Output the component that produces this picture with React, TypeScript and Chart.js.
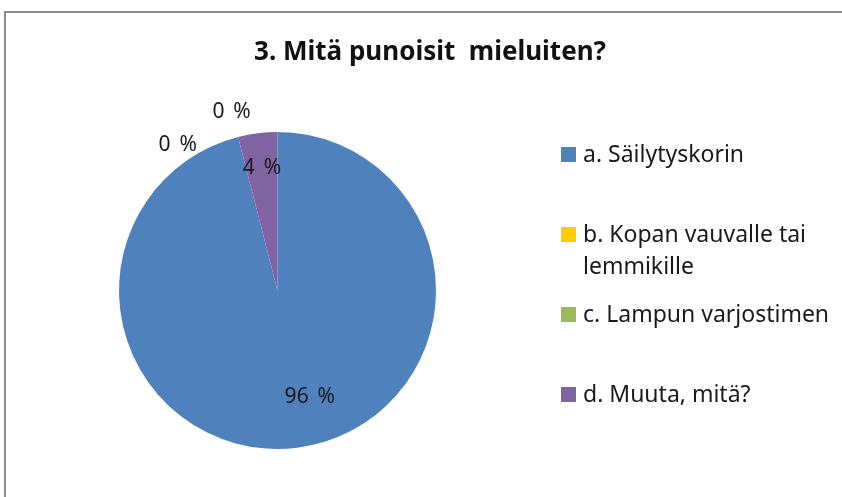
import React, { useEffect, useRef } from "react";
import { Chart, registerables } from "chart.js";
Chart.register(...registerables);

const categories = [
  "a. Säilytyskorin",
  "b. Kopan vauvalle tai lemmikille",
  "c. Lampun varjostimen",
  "d. Muuta, mitä?",
];
const values = [96, 0, 0, 4];
const valueLabels = ["96 %", "0 %", "0 %", "4 %"];
const colors = ["#4F81BD", "#FFCC00", "#9BBB59", "#8064A2"];
const title = "3. Mitä punoisit  mieluiten?";

const FONT = "'Noto Sans', 'Open Sans', sans-serif";

const decor = {
  id: "decor",
  beforeDraw(chart: any) {
    const ctx = chart.ctx;
    ctx.save();
    ctx.fillStyle = "#ffffff";
    ctx.fillRect(0, 0, chart.width, chart.height);
    ctx.strokeStyle = "#8c8c8c";
    ctx.lineWidth = 2;
    ctx.beginPath();
    ctx.moveTo(5, chart.height);
    ctx.lineTo(5, 12);
    ctx.lineTo(chart.width, 12);
    ctx.stroke();
    ctx.fillStyle = "#111";
    ctx.font = `bold 26px ${FONT}`;
    ctx.textAlign = "center";
    ctx.textBaseline = "middle";
    ctx.fillText(title, 430, 53);
    ctx.restore();
  },
  afterDatasetsDraw(chart: any) {
    const ctx = chart.ctx;
    const meta = chart.getDatasetMeta(0);
    ctx.save();
    ctx.font = `21px ${FONT}`;
    ctx.fillStyle = "#1a1a1a";
    ctx.textAlign = "center";
    ctx.textBaseline = "middle";
    let zeroK = 0;
    meta.data.forEach((arc: any, i: number) => {
      const p = arc.getProps(["x", "y", "startAngle", "endAngle", "outerRadius"], true);
      const mid = (p.startAngle + p.endAngle) / 2;
      let a = mid;
      let r: number;
      if (values[i] === 0) {
        a = mid - (zeroK * 20 * Math.PI) / 180;
        r = p.outerRadius + 26 - zeroK * 8;
        zeroK++;
      } else {
        a = mid - (values[i] > 50 ? 0.17 : 0);
        r = p.outerRadius * (values[i] > 50 ? 0.7 : 0.78);
      }
      ctx.fillText(valueLabels[i].replace(" ", "\u2009 "), p.x + Math.cos(a) * r, p.y + Math.sin(a) * r);
    });
    const lx = 561;
    const ly0 = 155;
    const step = 80;
    const lineH = 32;
    const maxW = 270;
    ctx.textAlign = "left";
    ctx.font = `23px ${FONT}`;
    categories.forEach((c, i) => {
      const y = ly0 + i * step;
      ctx.fillStyle = colors[i];
      ctx.fillRect(lx, y - 8, 15, 15);
      const words = c.split(" ");
      const lines: string[] = [];
      let cur = "";
      words.forEach((w) => {
        const t = cur ? cur + " " + w : w;
        if (ctx.measureText(t).width > maxW && cur) {
          lines.push(cur);
          cur = w;
        } else cur = t;
      });
      if (cur) lines.push(cur);
      ctx.fillStyle = "#1a1a1a";
      lines.forEach((ln, j) => ctx.fillText(ln, lx + 22, y + j * lineH));
    });
    ctx.restore();
  },
};

export default function App() {
  const ref = useRef<HTMLCanvasElement>(null);
  useEffect(() => {
    if (!ref.current) return;
    const chart = new Chart(ref.current, {
      type: "pie",
      data: {
        labels: categories,
        datasets: [
          {
            data: values,
            backgroundColor: colors,
            borderWidth: 0,
          },
        ],
      },
      options: {
        responsive: false,
        animation: false,
        layout: { padding: { left: 119, right: 406, top: 132, bottom: 48 } },
        plugins: { legend: { display: false }, tooltip: { enabled: false }, title: { display: false } },
      },
      plugins: [decor],
    });
    return () => chart.destroy();
  }, []);
  return (
    <div style={{ position: "fixed", left: 0, top: 0, width: 842, height: 497 }}>
      <canvas ref={ref} width={842} height={497} />
    </div>
  );
}
